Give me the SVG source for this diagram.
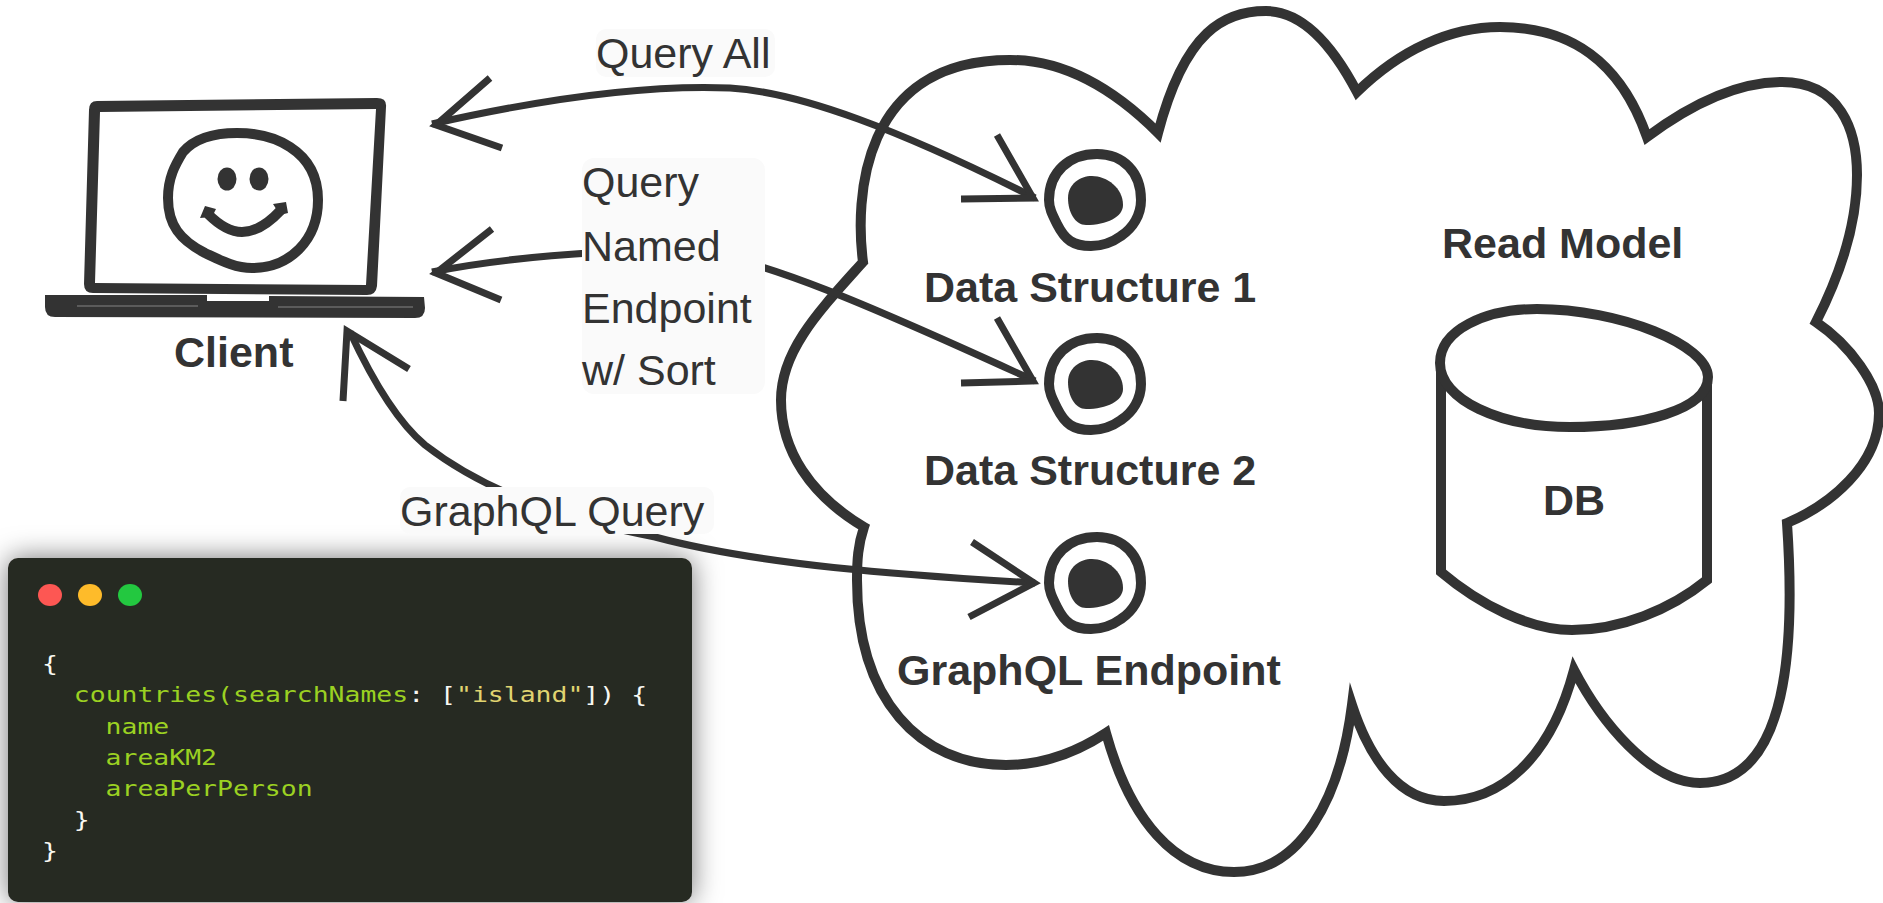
<svg xmlns="http://www.w3.org/2000/svg" width="1883" height="903" viewBox="0 0 1883 903">
<style>
.ink{fill:none;stroke:#333;stroke-width:10;stroke-miterlimit:12}
.solid{fill:#333;stroke:none}
.conn{fill:none;stroke:#333;stroke-width:7}
.head{fill:none;stroke:#333;stroke-width:7;stroke-miterlimit:10}
.b{font:bold 43px "Liberation Sans",Arial,sans-serif;fill:#333}
.r{font:43px "Liberation Sans",Arial,sans-serif;fill:#333}
.lb{fill:#fafafa}
.m{font:21px "DejaVu Sans Mono",monospace;fill:#f8f8f2}
.g{fill:#9bd122}
.y{fill:#e0d470}
</style>
<defs>
<filter id="sh" x="-15%" y="-20%" width="130%" height="140%"><feDropShadow dx="0" dy="0" stdDeviation="14" flood-color="#000" flood-opacity=".55"/></filter>
<g id="target">
<path class="ink" d="M-46 0C-46 -28 -26 -46 2 -46C28 -46 46 -28 46 0C46 15 38 28 26 36C15 44 5 46 -4 46C-22 46 -30 40 -38 24C-43 14 -46 8 -46 0Z"/>
<path class="solid" d="M-27 -2C-27 -16 -15 -24 -3 -24C12 -24 28 -12 28 5C28 17 12 25 -9 25C-20 25 -27 12 -27 -2Z"/>
</g>
</defs>
<rect width="1883" height="903" fill="#fff"/>

<g id="read-model">
<path class="ink" fill="#fff" style="fill:#fff" d="M1158 133C1185 30 1225 11 1266 11C1305 11 1335 50 1357 92C1400 50 1450 27 1500 27C1570 27 1620 60 1647 137C1690 105 1735 82 1782 82C1840 82 1857 130 1857 175C1857 225 1840 275 1816 322C1850 345 1879 385 1879 413C1879 465 1830 505 1787 523C1795 640 1790 783 1700 783C1650 783 1600 720 1574 670C1550 760 1500 801 1444 801C1400 801 1370 760 1352 705C1340 800 1300 872 1234 872C1175 872 1130 820 1106 733C1080 750 1045 765 1006 765C920 765 857 700 857 580C857 560 858 545 864 527C810 495 781 450 781 400C781 350 820 310 863 262C855 200 860 60 1010 60C1070 60 1120 95 1158 133Z"/>
<text class="b" x="1442" y="258">Read Model</text>
</g>

<g id="db">
<path class="ink" d="M1441 372V572C1480 605 1530 630 1572 630C1620 630 1670 610 1707 580V385"/>
<path class="ink" d="M1440 363C1440 330 1485 309 1537 309C1620 309 1708 345 1708 377C1708 410 1640 427 1570 427C1500 427 1440 400 1440 363Z"/>
<text class="b" x="1543" y="515">DB</text>
</g>

<g id="data-structure-1">
<use href="#target" x="1095" y="200"/>
<text class="b" x="924" y="302">Data Structure 1</text>
</g>
<g id="data-structure-2">
<use href="#target" x="1095" y="384"/>
<text class="b" x="924" y="485">Data Structure 2</text>
</g>
<g id="graphql-endpoint">
<use href="#target" x="1095" y="583"/>
<text class="b" x="897" y="685">GraphQL Endpoint</text>
</g>

<g id="client">
<path class="solid" fill-rule="evenodd" d="M97 101L377 98Q387 98 386 107L377 286Q376 295 367 295L93 293Q84 293 84 284L89 110Q89 101 97 101ZM100 112L95 283L366 285L376 109Z"/>
<path class="solid" d="M45 295L207 295V301H269V296L424 297L425 308Q425 318 415 318L55 317Q45 317 45 307Z"/>
<path d="M77 306H198M278 307H413" fill="none" stroke="#999" stroke-width=".8"/>
<path class="ink" stroke-width="11" d="M168 198C168 178 175 165 183 152C195 138 215 133 237 133C258 133 275 137 290 147C310 160 318 178 318 200C318 240 290 268 252 268C235 268 220 260 205 253C180 240 168 225 168 198Z"/>
<ellipse class="solid" cx="227" cy="179" rx="9.5" ry="11.5"/>
<ellipse class="solid" cx="259" cy="179" rx="9.5" ry="11.5"/>
<path class="ink" d="M208 214C222 228 232 232 242 232C255 232 268 224 281 210"/>
<path class="solid" d="M205 206L216 209L212 217L200 218ZM273 204L286 202L288 213L280 215Z"/>
<text class="b" x="174" y="367">Client</text>
</g>

<g id="code-card">
<rect x="8" y="558" width="684" height="344" rx="10" fill="#282923" filter="url(#sh)"/>
<ellipse cx="50" cy="595" rx="12" ry="11" fill="#fd5753"/>
<ellipse cx="90" cy="595" rx="12" ry="11" fill="#febb2a"/>
<ellipse cx="130" cy="595" rx="12" ry="11" fill="#23c840"/>
<g transform="scale(1.26 1)">
<text class="m" x="33.3" y="671">{</text>
<text class="m" x="58.6" y="702"><tspan class="g">countries(searchNames</tspan>: [<tspan class="y">"island"</tspan>]) {</text>
<text class="m g" x="83.8" y="734">name</text>
<text class="m g" x="83.8" y="765">areaKM2</text>
<text class="m g" x="83.8" y="796">areaPerPerson</text>
<text class="m" x="58.6" y="827">}</text>
<text class="m" x="33.3" y="858">}</text>
</g>
</g>

<g id="connectors">
<path class="conn" d="M432 124C560 95 660 85 730 88C800 92 900 130 1035 198"/>
<path class="head" d="M490 78L436 125L502 148"/>
<path class="head" d="M997 135L1033 198L961 199"/>
<path class="conn" d="M432 272C500 258 600 250 680 250C750 252 880 310 1035 381"/>
<path class="head" d="M492 229L436 273L501 300"/>
<path class="head" d="M997 318L1033 381L961 383"/>
<path class="conn" d="M350 332C370 375 395 420 425 445C470 480 540 515 655 537C760 565 900 575 1035 583"/>
<path class="head" d="M343 401L347 331L409 369"/>
<path class="head" d="M972 542L1034 583L969 617"/>
</g>

<g id="labels">
<rect class="lb" x="596" y="29" width="179" height="48" rx="10"/>
<text class="r" x="596" y="68">Query All</text>
<rect class="lb" x="582" y="158" width="183" height="236" rx="12"/>
<text class="r" x="582" y="197">Query</text>
<text class="r" x="582" y="261">Named</text>
<text class="r" x="582" y="323">Endpoint</text>
<text class="r" x="582" y="385">w/ Sort</text>
<rect class="lb" x="400" y="487" width="314" height="47" rx="10"/>
<text class="r" x="400" y="526">GraphQL Query</text>
</g>
</svg>
